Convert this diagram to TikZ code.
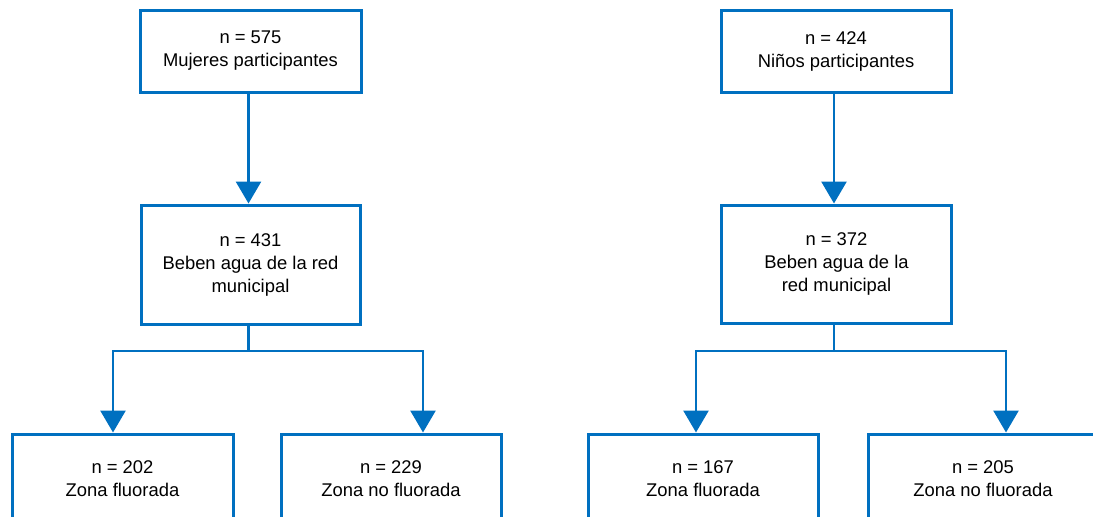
\documentclass[tikz,border=0pt]{standalone}
\usepackage{fontspec}
\setmainfont{Liberation Sans}
\usetikzlibrary{arrows.meta}
\definecolor{flowblue}{RGB}{0,112,192}
\tikzset{every picture/.style={line width=0.75pt}}
\tikzset{
  box/.style={draw=flowblue, line width=3pt, align=center, inner sep=0pt,
    font=\fontsize{18.4}{23}\selectfont},
  link/.style={draw=flowblue, line width=2.8pt},
  flow/.style={link, -{Triangle[width=25pt,length=22pt]}}
}

\begin{document}
\begin{tikzpicture}[x=1pt,y=1pt,yscale=-1,xscale=1]
\useasboundingbox (0,0) rectangle (1093,517);

%Rect: women, top
\node[box, minimum width=221pt, minimum height=82pt] (topL) at (250.5,51) {n = 575\\Mujeres participantes};
%Rect: women, tap water
\node[box, minimum width=219pt, minimum height=119pt] (midL) at (250.5,264.5) {n = 431\\Beben agua de la red\\municipal};
%Rect: women, zones
\node[box, minimum width=221pt, minimum height=90pt] (botLa) at (122.5,479) {n = 202\\Zona fluorada};
\node[box, minimum width=220pt, minimum height=90pt] (botLb) at (391,479) {n = 229\\Zona no fluorada};

%Rect: children, top
\node[box, minimum width=230pt, minimum height=82pt] (topR) at (836,51) {n = 424\\Niños participantes};
%Rect: children, tap water
\node[box, minimum width=230pt, minimum height=118pt] (midR) at (836.5,264) {n = 372\\Beben agua de la\\red municipal};
%Rect: children, zones
\node[box, minimum width=230pt, minimum height=90pt] (botRa) at (703,479) {n = 167\\Zona fluorada};
\node[box, minimum width=230pt, minimum height=90pt] (botRb) at (983,479) {n = 205\\Zona no fluorada};

%Branch points
\coordinate (splitL) at (248.5,351);
\coordinate (splitR) at (834,351);
\coordinate (colLa) at (113,351);
\coordinate (colLb) at (423,351);
\coordinate (colRa) at (696,351);
\coordinate (colRb) at (1006,351);

%Straight Lines
\draw[flow] (topL.south -| splitL) -- (midL.north -| splitL);
\draw[flow] (topR.south -| splitR) -- (midR.north -| splitR);
\draw[link] (midL.south -| splitL) -- (splitL);
\draw[link] (midR.south -| splitR) -- (splitR);
\draw[flow] (splitL) -| (colLa |- botLa.north);
\draw[flow] (splitL) -| (colLb |- botLb.north);
\draw[flow] (splitR) -| (colRa |- botRa.north);
\draw[flow] (splitR) -| (colRb |- botRb.north);

\end{tikzpicture}
\end{document}
